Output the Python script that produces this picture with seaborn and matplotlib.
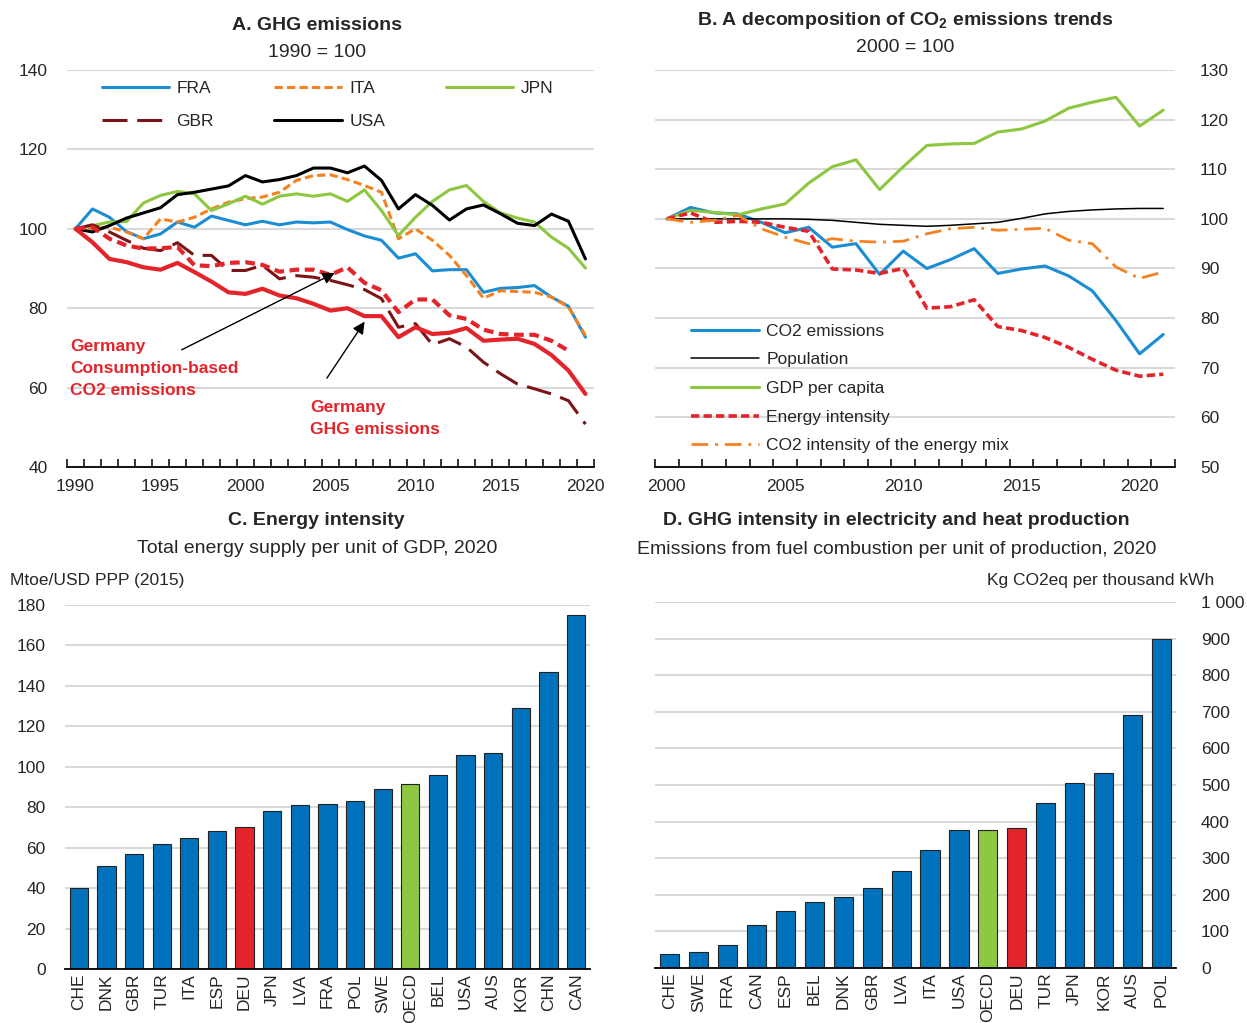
import numpy as np
import pandas as pd
import seaborn as sns
import matplotlib
matplotlib.use("Agg")
import matplotlib.pyplot as plt
from matplotlib.ticker import MultipleLocator, FixedLocator, FuncFormatter

# panel A : GHG emissions, 1990 = 100
years_a = list(range(1990, 2021))
fra = [100, 105, 102.9, 99.3, 97.5, 98.7, 101.7, 100.4, 103.2, 102.1, 101, 101.9, 101, 101.7, 101.5, 101.7,
       99.8, 98.2, 97.1, 92.6, 93.7, 89.4, 89.7, 89.7, 84, 85, 85.2, 85.7, 82.8, 80.5, 72.7]
ita = [100, 100.2, 100.4, 99.2, 97.5, 102.5, 101.7, 102.9, 105, 106.7, 107.6, 108, 109.2, 112.2, 113.4, 113.6,
       112.4, 110.9, 109.2, 97.5, 100, 97.1, 93.3, 88.2, 82.5, 84.4, 84.2, 84, 82.8, 80.3, 73.1]
jpn = [100, 100.8, 101.7, 101.8, 106.5, 108.4, 109.4, 108.8, 104.6, 106.3, 108.2, 106.2, 108.2, 108.8, 108.2, 108.8,
       106.9, 109.8, 104.6, 98.3, 102.9, 106.9, 109.8, 110.9, 106.9, 104, 102.7, 101.7, 97.9, 95.1, 90.1]
gbr = [100, 101, 99.2, 97.1, 95.1, 94.5, 96.5, 93.3, 93.3, 89.5, 89.5, 90.8, 87.4, 88.2, 87.8, 87,
       85.9, 84.7, 82.4, 75.2, 76.1, 70.8, 72.3, 70.2, 66.4, 63.5, 60.9, 59.7, 58.4, 56.7, 50.8]
usa = [100, 99.2, 100.8, 102.7, 104, 105.3, 108.6, 109.2, 110, 110.8, 113.4, 111.8, 112.4, 113.4, 115.3, 115.3,
       114.1, 115.8, 112.2, 105, 108.6, 105.9, 102.2, 105, 106, 103.8, 101.4, 100.8, 103.7, 101.9, 92.4]
deu_ghg = [100, 96.6, 92.4, 91.6, 90.3, 89.7, 91.4, 89.1, 86.7, 84, 83.6, 84.9, 83.2, 82.5, 81.1, 79.4,
           80, 78, 78, 72.7, 75.2, 73.5, 73.8, 75, 71.8, 72.1, 72.3, 71, 68.2, 64.3, 58.4]
deu_cons = [100, 100.4, 97.5, 95.8, 95, 95.1, 95.4, 90.8, 90.6, 91.4, 91.6, 90.9, 89.2, 89.7, 89.7, 88.4,
            90.3, 86.4, 84.5, 79, 82.2, 82.2, 78.2, 77.3, 74.6, 73.5, 73.3, 73.3, 71.8, 69.3, np.nan]

# panel B : decomposition of CO2 emissions trends, 2000 = 100
years_b = list(range(2000, 2022))
co2 = [100, 102.3, 101.2, 101, 99.3, 97.2, 98.3, 94.3, 95, 88.8, 93.5, 90, 91.8, 94, 89, 89.9,
       90.5, 88.5, 85.5, 79.5, 72.8, 76.7]
population = [100, 100, 100, 100, 100, 100, 99.9, 99.7, 99.3, 98.9, 98.7, 98.5, 98.7, 99, 99.3, 100.1,
              101, 101.5, 101.8, 102, 102.1, 102.1]
gdp_pc = [100, 101.7, 101.3, 100.8, 102, 103, 107.2, 110.5, 111.9, 105.9, 110.5, 114.8, 115.1, 115.2, 117.5, 118.1,
          119.7, 122.3, 123.5, 124.5, 118.7, 121.9]
energy_int = [100, 101.2, 99.3, 99.5, 99.3, 98.3, 97.5, 89.9, 89.7, 89, 90, 82, 82.3, 83.7, 78.3, 77.5,
              76.1, 74.1, 71.7, 69.5, 68.3, 68.7]
co2_mix = [100, 99.3, 99.7, 100.7, 98, 96.3, 95, 96, 95.5, 95.3, 95.5, 97, 98, 98.3, 97.7, 97.9,
           98.1, 95.7, 95, 90.3, 88, 89.3]

# panel C : energy intensity 2020
countries_c = ["CHE", "DNK", "GBR", "TUR", "ITA", "ESP", "DEU", "JPN", "LVA", "FRA", "POL", "SWE", "OECD",
               "BEL", "USA", "AUS", "KOR", "CHN", "CAN"]
values_c = [40, 51, 57, 62, 65, 68, 70, 78, 81, 81.5, 83, 89, 91.5, 96, 106, 107, 129, 147, 175]

# panel D : GHG intensity in electricity and heat production 2020
countries_d = ["CHE", "SWE", "FRA", "CAN", "ESP", "BEL", "DNK", "GBR", "LVA", "ITA", "USA", "OECD", "DEU",
               "TUR", "JPN", "KOR", "AUS", "POL"]
values_d = [39, 44, 64, 118, 155, 180, 193, 218, 264, 321, 376, 376, 382, 451, 505, 533, 690, 899]

BLUE = "#0072BC"
LBLUE = "#1B8DD3"
GREEN = "#8CC841"
RED = "#E3242B"
ORANGE = "#F58220"
DRED = "#7B1416"
GRID = "#D9D9D9"

sns.set_theme(style="white")
plt.rcParams["font.family"] = ["Liberation Sans Narrow", "Liberation Sans", "DejaVu Sans"]
plt.rcParams["mathtext.default"] = "regular"
plt.rcParams["lines.scale_dashes"] = False
FS = 12.5

fig = plt.figure(figsize=(12.47, 10.23), dpi=100)
axA = fig.add_axes([0.0537, 0.5435, 0.4226, 0.3881])
axB = fig.add_axes([0.5253, 0.5435, 0.4170, 0.3881])
axC = fig.add_axes([0.0521, 0.0528, 0.4210, 0.3558])
axD = fig.add_axes([0.5253, 0.0538, 0.4178, 0.3578])


def style_axes(ax):
    for s in ["top", "left", "right"]:
        ax.spines[s].set_visible(False)
    ax.spines["bottom"].set_color("black")
    ax.spines["bottom"].set_linewidth(1.3)
    ax.grid(axis="y", color=GRID, lw=1.5)
    ax.set_axisbelow(True)
    ax.set_xlabel("")
    ax.set_ylabel("")


def year_axis(ax, first, last):
    ax.set_xlim(first - 0.5, last + 0.5)
    ax.xaxis.set_major_locator(FixedLocator([y for y in range(first, last + 1) if y % 5 == 0]))
    ax.xaxis.set_minor_locator(FixedLocator(np.arange(first - 0.5, last + 1)))
    ax.tick_params(axis="x", which="major", length=0, labelsize=FS, pad=9)
    ax.tick_params(axis="x", which="minor", direction="in", length=6, width=1.1, color="black", bottom=True)


# ---- panel A
dfa = pd.DataFrame({"year": years_a, "FRA": fra, "ITA": ita, "JPN": jpn, "GBR": gbr, "USA": usa,
                    "DEU_GHG": deu_ghg, "DEU_CONS": deu_cons})
specs_a = [("FRA", LBLUE, 2.2, "-"), ("ITA", ORANGE, 2.2, (0, (6, 3))), ("JPN", "#8DC63F", 2.2, "-"),
           ("GBR", DRED, 2.2, (0, (18, 7))), ("USA", "black", 2.2, "-"),
           ("DEU_CONS", RED, 3.0, (0, (7, 4))), ("DEU_GHG", RED, 3.0, "-")]
handles = {}
for name, col, lw, ls in specs_a:
    sns.lineplot(data=dfa, x="year", y=name, ax=axA, color=col, lw=lw, linestyle=ls)
    handles[name] = axA.lines[-1]
style_axes(axA)
axA.set_ylim(40, 140)
axA.yaxis.set_major_locator(MultipleLocator(20))
axA.tick_params(axis="y", length=0, labelsize=FS, pad=14)
year_axis(axA, 1990, 2020)
order = ["FRA", "GBR", "ITA", "USA", "JPN"]
axA.legend([handles[k] for k in order], order, ncol=3, loc="upper left", bbox_to_anchor=(0.036, 1.012),
           frameon=False, fontsize=FS, handlelength=3.9, handletextpad=0.4, columnspacing=3.5,
           labelspacing=1.05)

ann = dict(color=RED, fontsize=FS, fontweight="bold", va="top", ha="left", linespacing=1.6)
axA.text(1989.7, 72.3, "Germany\nConsumption-based\nCO2 emissions", **ann)
axA.text(2003.8, 57.0, "Germany\nGHG emissions", **ann)
axA.annotate("", xy=(2005.4, 89.2), xytext=(1996.1, 69.2),
             arrowprops=dict(arrowstyle="-|>", color="black", lw=1, mutation_scale=18))
axA.annotate("", xy=(2007.1, 77.2), xytext=(2004.7, 61.8),
             arrowprops=dict(arrowstyle="-|>", color="black", lw=1, mutation_scale=18))

# ---- panel B
dfb = pd.DataFrame({"year": years_b, "CO2 emissions": co2, "Population": population,
                    "GDP per capita": gdp_pc, "Energy intensity": energy_int,
                    "CO2 intensity of the energy mix": co2_mix})
specs_b = [("CO2 emissions", LBLUE, 2.2, "-"), ("Population", "black", 1.1, "-"),
           ("GDP per capita", "#8DC63F", 2.2, "-"), ("Energy intensity", RED, 2.6, (0, (6, 3))),
           ("CO2 intensity of the energy mix", ORANGE, 2.0, (0, (12, 5, 2, 5)))]
hb = []
for name, col, lw, ls in specs_b:
    sns.lineplot(data=dfb, x="year", y=name, ax=axB, color=col, lw=lw, linestyle=ls)
    hb.append(axB.lines[-1])
style_axes(axB)
axB.set_ylim(50, 130)
axB.yaxis.set_major_locator(MultipleLocator(10))
axB.yaxis.tick_right()
axB.tick_params(axis="y", length=0, labelsize=FS, pad=18, left=False, labelleft=False, labelright=True)
year_axis(axB, 2000, 2021)
axB.legend(hb, [s[0] for s in specs_b], loc="lower left", bbox_to_anchor=(0.04, -0.005), frameon=False,
           fontsize=FS, handlelength=3.9, handletextpad=0.4, labelspacing=0.78)

# ---- panel C
colors_c = [RED if c == "DEU" else GREEN if c == "OECD" else BLUE for c in countries_c]
sns.barplot(x=countries_c, y=values_c, hue=countries_c, palette=colors_c, legend=False, ax=axC,
            width=0.66, edgecolor="#222222", linewidth=0.8, saturation=1)
style_axes(axC)
axC.set_ylim(0, 180)
axC.set_xlim(-0.5, len(countries_c) - 0.5)
axC.yaxis.set_major_locator(MultipleLocator(20))
axC.tick_params(axis="y", length=0, labelsize=FS, pad=14)
axC.tick_params(axis="x", length=0, labelsize=FS, rotation=90, pad=3)

# ---- panel D
colors_d = [RED if c == "DEU" else GREEN if c == "OECD" else BLUE for c in countries_d]
sns.barplot(x=countries_d, y=values_d, hue=countries_d, palette=colors_d, legend=False, ax=axD,
            width=0.66, edgecolor="#222222", linewidth=0.8, saturation=1)
style_axes(axD)
axD.set_ylim(0, 1000)
axD.set_xlim(-0.5, len(countries_d) - 0.5)
axD.yaxis.set_major_locator(MultipleLocator(100))
axD.yaxis.set_major_formatter(FuncFormatter(lambda v, p: f"{int(v):,}".replace(",", " ")))
axD.yaxis.tick_right()
axD.tick_params(axis="y", length=0, labelsize=FS, pad=18, left=False, labelleft=False, labelright=True)
axD.tick_params(axis="x", length=0, labelsize=FS, rotation=90, pad=3)

# ---- titles
TFS = 14
fig.text(0.254, 0.9746, "A. GHG emissions", ha="center", va="center", fontsize=TFS, fontweight="bold")
fig.text(0.254, 0.949, "1990 = 100", ha="center", va="center", fontsize=TFS)
fig.text(0.726, 0.980, "B. A decomposition of CO$_2$ emissions trends", ha="center", va="center",
         fontsize=TFS, fontweight="bold")
fig.text(0.726, 0.954, "2000 = 100", ha="center", va="center", fontsize=TFS)
fig.text(0.254, 0.491, "C. Energy intensity", ha="center", va="center", fontsize=TFS, fontweight="bold")
fig.text(0.254, 0.464, "Total energy supply per unit of GDP, 2020", ha="center", va="center", fontsize=TFS)
fig.text(0.719, 0.491, "D. GHG intensity in electricity and heat production", ha="center", va="center",
         fontsize=TFS, fontweight="bold")
fig.text(0.719, 0.463, "Emissions from fuel combustion per unit of production, 2020", ha="center",
         va="center", fontsize=TFS)
fig.text(0.008, 0.433, "Mtoe/USD PPP (2015)", ha="left", va="center", fontsize=FS)
fig.text(0.974, 0.433, "Kg CO2eq per thousand kWh", ha="right", va="center", fontsize=FS)

fig.savefig("out.png", dpi=100, facecolor="white")
